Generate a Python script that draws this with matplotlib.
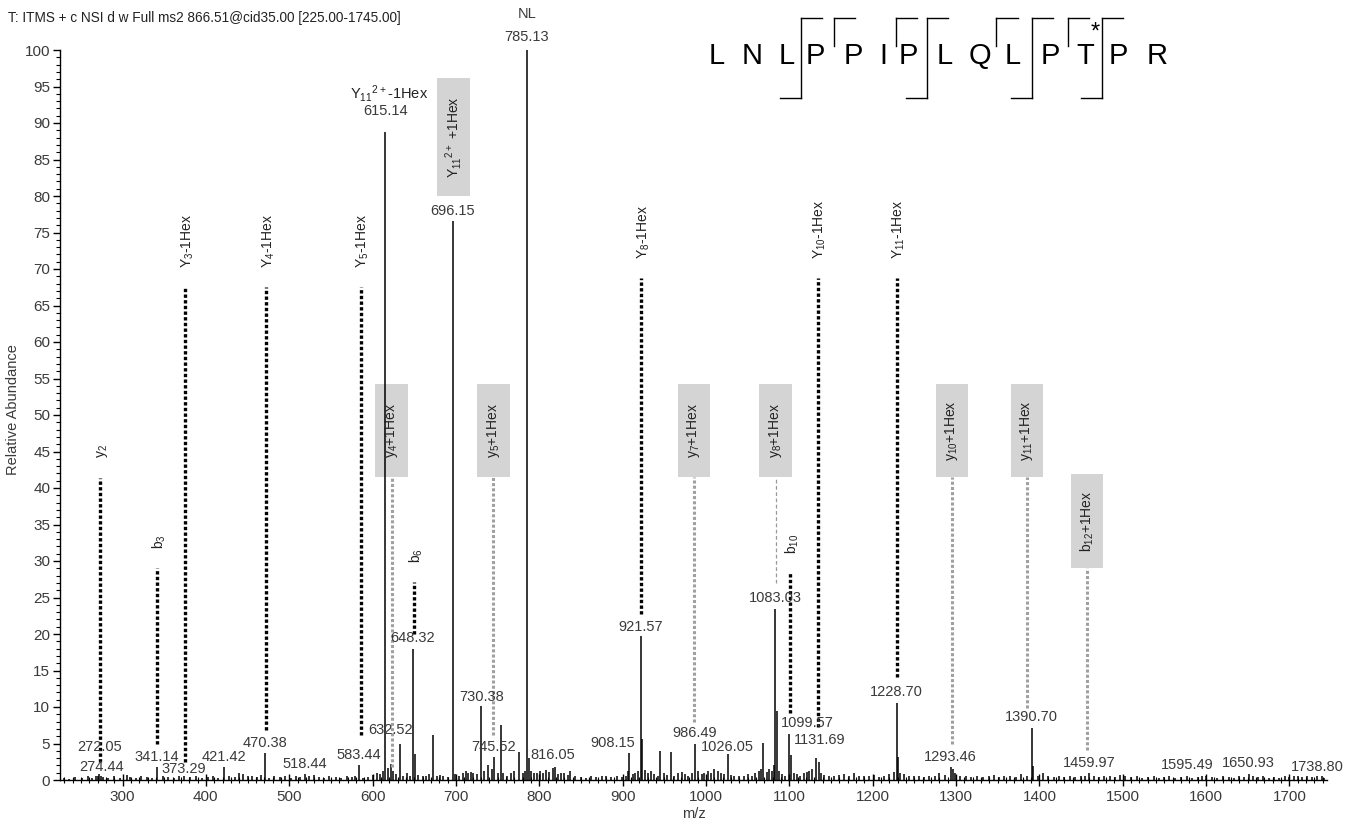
import matplotlib
matplotlib.use("Agg")
import matplotlib.pyplot as plt
from matplotlib.ticker import MultipleLocator
from matplotlib.patches import Rectangle
from matplotlib.lines import Line2D

plt.rcParams['font.family'] = ['Liberation Sans', 'DejaVu Sans']
plt.rcParams['mathtext.fontset'] = 'custom'
plt.rcParams['mathtext.rm'] = 'Liberation Sans'
plt.rcParams['mathtext.it'] = 'Liberation Sans:italic'
plt.rcParams['mathtext.bf'] = 'Liberation Sans:bold'

# ---------------- data ----------------
title_text = "T: ITMS + c NSI d w Full ms2 866.51@cid35.00 [225.00-1745.00]"
sequence = ["L", "N", "L", "P", "P", "I", "P", "L", "Q", "L", "P", "T", "P", "R"]
y_breaks = [2, 3, 5, 6, 8, 9, 10, 11]  # bracket after residue index (top, y ions)
b_breaks = [2, 6, 9, 11]               # bracket after residue index (bottom, b ions)
modified_residue = 11

# labelled peaks
lab_mz = [272.05, 274.44, 341.14, 373.29, 421.42, 470.38, 518.44, 583.44, 615.14,
          632.52, 648.32, 696.15, 730.38, 745.52, 785.13, 816.05, 908.15, 921.57,
          986.49, 1026.05, 1083.03, 1099.57, 1131.69, 1228.70, 1293.46, 1390.70,
          1459.97, 1595.49, 1650.93, 1738.80]
lab_int = [0.8, 0.6, 1.8, 0.5, 1.8, 3.7, 0.8, 2.0, 88.8,
           5.0, 17.9, 76.6, 10.1, 3.2, 100.0, 1.6, 3.7, 19.7,
           4.9, 3.6, 23.4, 6.3, 3.0, 10.5, 1.8, 7.1,
           1.0, 0.6, 0.8, 0.5]
lab_text = ["272.05", "274.44", "341.14", "373.29", "421.42", "470.38", "518.44", "583.44", "615.14",
            "632.52", "648.32", "696.15", "730.38", "745.52", "785.13", "816.05", "908.15", "921.57",
            "986.49", "1026.05", "1083.03", "1099.57", "1131.69", "1228.70", "1293.46", "1390.70",
            "1459.97", "1595.49", "1650.93", "1738.80"]
# label placement (layout): vertical position and horizontal shift in m/z units
lab_y = [4.5, 1.8, 3.2, 1.5, 3.2, 5.1, 2.2, 3.4, 91.6,
         6.8, 19.5, 78.0, 11.4, 4.5, 101.8, 3.4, 5.1, 21.0,
         6.4, 4.5, 24.9, 7.8, 5.5, 12.1, 3.2, 8.6,
         2.3, 2.1, 2.3, 1.8]
lab_dx = [0, 0, 0, 0, 0, 0, 0, 0, 0,
          -11, 0, 0, 0, 0, 0, 0, -20, 0,
          0, 0, 0, 22, 5, 0, 0, 0,
          0, -18, 0, -6]

# other (unlabelled) peaks
other_mz = [622.5, 650.5, 672.6, 738.0, 753.8, 776.0, 788.0, 923.5, 945.0, 958.0,
            1068.7, 1085.5, 1102.0, 1135.0, 1230.5, 1296.0, 1392.5]
other_int = [2.2, 3.6, 6.1, 2.0, 7.5, 3.9, 3.0, 5.6, 4.0, 3.8,
             5.1, 9.5, 3.4, 2.5, 3.2, 1.5, 1.9]

noise_mz = [230, 236, 243, 251, 258, 263, 268, 270, 277, 283, 290, 297, 305, 309, 316, 322,
            329, 335, 348, 355, 362, 368, 381, 388, 395, 402, 409, 415, 428, 435, 440, 444,
            450, 455, 461, 466, 476, 482, 489, 495, 502, 508, 513, 524, 530, 536, 542, 548,
            556, 562, 569, 575, 579, 588, 595, 601, 605, 609, 612, 618, 625, 628, 636, 641,
            645, 655, 660, 664, 668, 677, 681, 685, 690, 699, 704, 708, 712, 715, 718, 721,
            725, 734, 743, 750, 757, 761, 766, 770, 780, 783, 790, 794, 797, 801, 805, 808,
            812, 819, 822, 826, 830, 834, 837, 843, 850, 856, 862, 868, 875, 880, 886, 893,
            899, 904, 906, 912, 915, 918, 927, 930, 934, 938, 942, 950, 953, 962, 966, 971,
            975, 979, 983, 990, 995, 998, 1002, 1006, 1010, 1014, 1018, 1022, 1030, 1034, 1040,
            1045, 1050, 1055, 1059, 1063, 1066, 1073, 1076, 1079, 1081, 1088, 1091, 1095, 1105,
            1109, 1113, 1117, 1121, 1124, 1127, 1138, 1142, 1148, 1154, 1160, 1166, 1172, 1178,
            1184, 1190, 1196, 1202, 1208, 1214, 1220, 1225, 1233, 1237, 1243, 1250, 1256, 1262,
            1268, 1275, 1280, 1287, 1299, 1305, 1312, 1318, 1325, 1332, 1339, 1346, 1352, 1358,
            1365, 1372, 1378, 1385, 1398, 1404, 1410, 1417, 1424, 1430, 1437, 1443, 1450, 1455,
            1465, 1472, 1478, 1485, 1491, 1497, 1503, 1510, 1517, 1523, 1530, 1537, 1543, 1550,
            1556, 1563, 1570, 1577, 1583, 1590, 1600, 1607, 1613, 1620, 1627, 1633, 1640, 1645,
            1656, 1662, 1668, 1675, 1682, 1688, 1695, 1700, 1706, 1710, 1715, 1721, 1727, 1733, 1742]
noise_int = [0.3, 0.2, 0.4, 0.3, 0.5, 0.3, 0.6, 0.5, 0.4, 0.3, 0.5, 0.3, 0.7, 0.4, 0.3, 0.6,
             0.4, 0.3, 0.5, 0.4, 0.3, 0.6, 0.4, 0.5, 0.3, 0.4, 0.6, 0.3, 0.5, 0.4, 1.0, 0.8,
             0.5, 0.6, 0.4, 0.7, 0.3, 0.5, 0.4, 0.6, 0.3, 0.5, 0.4, 0.5, 0.7, 0.4, 0.3, 0.5,
             0.4, 0.3, 0.5, 0.4, 0.6, 0.3, 0.4, 0.7, 1.0, 0.8, 1.2, 1.6, 1.2, 0.8, 0.6, 0.9,
             0.5, 0.7, 0.5, 0.6, 0.8, 0.6, 0.7, 0.5, 0.4, 0.8, 0.5, 0.9, 1.2, 1.0, 1.1, 0.9,
             0.8, 1.2, 1.5, 1.0, 0.9, 0.6, 1.0, 1.2, 1.0, 1.3, 1.2, 1.0, 0.9, 1.2, 1.0, 1.4,
             1.1, 1.8, 0.8, 1.0, 1.0, 0.7, 1.2, 0.5, 0.4, 0.3, 0.5, 0.4, 0.6, 0.5, 0.4, 0.5,
             0.4, 0.6, 1.2, 0.8, 1.0, 1.2, 1.4, 1.0, 1.3, 0.8, 0.6, 1.0, 0.7, 0.6, 1.0, 1.1,
             0.8, 0.6, 1.0, 1.2, 0.8, 1.0, 1.3, 0.9, 1.5, 1.2, 0.9, 0.8, 0.7, 0.5, 0.6,
             0.5, 0.8, 0.6, 0.9, 1.2, 1.5, 1.1, 1.5, 1.2, 2.0, 1.3, 0.8, 0.6, 1.0,
             0.8, 0.6, 0.9, 1.1, 1.2, 1.5, 1.0, 0.7, 0.5, 0.6, 0.7, 0.8, 0.6, 0.9,
             0.5, 0.6, 0.5, 0.7, 0.4, 0.6, 0.8, 1.1, 1.0, 0.8, 0.6, 0.5, 0.6, 0.4,
             0.5, 0.6, 1.0, 0.7, 1.0, 0.5, 0.6, 0.4, 0.5, 0.4, 0.5, 0.7, 0.4, 0.5,
             0.6, 0.4, 0.8, 0.6, 0.5, 0.9, 0.5, 0.4, 0.5, 0.4, 0.6, 0.4, 0.5, 0.6,
             0.5, 0.4, 0.5, 0.6, 0.4, 0.7, 0.5, 0.4, 0.5, 0.3, 0.4, 0.6, 0.3, 0.4,
             0.5, 0.3, 0.4, 0.5, 0.3, 0.4, 0.5, 0.4, 0.3, 0.5, 0.4, 0.3, 0.5, 0.4,
             0.5, 0.4, 0.5, 0.3, 0.4, 0.3, 0.5, 0.4, 0.6, 0.5, 0.4, 0.5, 0.4, 0.5, 0.3]

# fragment annotations: black dotted (matched ions)
blk_label = [r"y$_2$", r"b$_3$", r"Y$_3$-1Hex", r"Y$_4$-1Hex", r"Y$_5$-1Hex", r"b$_6$",
             r"Y$_8$-1Hex", r"b$_{10}$", r"Y$_{10}$-1Hex", r"Y$_{11}$-1Hex"]
blk_mz = [273.0, 341.5, 375.5, 472.5, 586.0, 649.5, 922.5, 1100.5, 1134.0, 1229.0]
blk_top = [41.4, 29.0, 67.5, 67.5, 67.5, 27.1, 68.7, 28.3, 68.7, 68.7]
blk_bot = [2.5, 5.0, 2.5, 6.8, 6.2, 20.0, 22.8, 9.2, 7.3, 14.1]

# fragment annotations: grey boxes (+1Hex)
box_label = [r"y$_4$+1Hex", r"y$_5$+1Hex", r"y$_7$+1Hex", r"y$_8$+1Hex",
             r"y$_{10}$+1Hex", r"y$_{11}$+1Hex", r"b$_{12}$+1Hex"]
box_mz = [623.0, 745.0, 985.5, 1083.5, 1295.0, 1385.0, 1457.0]
box_top = [54.2, 54.2, 54.2, 54.2, 54.2, 54.2, 41.9]
box_bot = [41.5, 41.5, 41.5, 41.5, 41.5, 41.5, 29.0]
box_line_bot = [1.8, 6.2, 8.0, 27.0, 5.0, 9.8, 4.1]
box_thin = [False, False, False, True, False, False, False]

# ---------------- figure ----------------
W, H = 1358, 827
fig = plt.figure(figsize=(W / 100, H / 100), dpi=100)
ax = fig.add_axes([60 / W, 1 - 780 / H, (1327 - 60) / W, (780 - 50) / H])

txt_col = "#3a3a3a"

# all peaks
all_mz = noise_mz + other_mz + lab_mz
all_int = noise_int + other_int + lab_int
ax.vlines(all_mz, 0, all_int, color="black", lw=1.1, zorder=3)

# peak labels
for mz, y, dx, t in zip(lab_mz, lab_y, lab_dx, lab_text):
    ax.text(mz + dx, y, t, ha="center", va="center", fontsize=10.5, color=txt_col,
            clip_on=False, zorder=5)

ax.text(785.13, 105.0, "NL", ha="center", va="center", fontsize=10.5, color=txt_col, clip_on=False)
ax.text(620.0, 94.1, r"Y$_{11}$$^{2+}$-1Hex", ha="center", va="center", fontsize=10.5,
        color="#222222", clip_on=False)

# box for Y11 2+ +1Hex (no connecting line)
ax.add_patch(Rectangle((677.5, 80.0), 39.5, 16.2, facecolor="#d4d4d4", edgecolor="none", zorder=2))
ax.text(697.2, 88.1, r"Y$_{11}$$^{2+}$ +1Hex", rotation=90, ha="center", va="center",
        fontsize=10, color="#222222", zorder=4)

# black dotted matched-ion lines
for lab, mz, top, bot in zip(blk_label, blk_mz, blk_top, blk_bot):
    ax.plot([mz, mz], [bot, top], color="black", lw=2.4, linestyle=(0, (1, 0.7)),
            solid_capstyle="butt", dash_capstyle="butt", zorder=4)
    ax.annotate(lab, xy=(mz, top), xytext=(1.5, 14), textcoords="offset points",
                rotation=90, ha="center", va="bottom", fontsize=10, color="#222222")

# grey boxed +1Hex annotations
for lab, mz, top, bot, lbot, thin in zip(box_label, box_mz, box_top, box_bot, box_line_bot, box_thin):
    ax.add_patch(Rectangle((mz - 19.5, bot), 39.0, top - bot, facecolor="#d4d4d4",
                           edgecolor="none", zorder=2))
    ax.text(mz, (top + bot) / 2, lab, rotation=90, ha="center", va="center",
            fontsize=10, color="#222222", zorder=4)
    if thin:
        ax.plot([mz, mz], [lbot, bot], color="#9a9a9a", lw=0.9, linestyle=(0, (3, 2)), zorder=3)
    else:
        ax.plot([mz, mz], [lbot, bot], color="#a0a0a0", lw=2.2, linestyle=(0, (1, 0.7)),
                dash_capstyle="butt", zorder=3)

# axes styling
ax.set_xlim(225, 1745)
ax.set_ylim(0, 100)
for s in ["top", "right"]:
    ax.spines[s].set_visible(False)
ax.spines["left"].set_linewidth(1.0)
ax.spines["bottom"].set_linewidth(1.0)
ax.xaxis.set_major_locator(MultipleLocator(100))
ax.xaxis.set_minor_locator(MultipleLocator(10))
ax.yaxis.set_major_locator(MultipleLocator(5))
ax.yaxis.set_minor_locator(MultipleLocator(1))
ax.tick_params(axis="x", which="major", direction="inout", length=8, width=1, labelsize=11,
               labelcolor=txt_col, pad=3)
ax.tick_params(axis="x", which="minor", direction="inout", length=4, width=0.8)
ax.tick_params(axis="y", which="major", direction="out", length=5, width=1, labelsize=11,
               labelcolor=txt_col, pad=2)
ax.tick_params(axis="y", which="minor", direction="out", length=3, width=0.8)
ax.set_xlabel("m/z", fontsize=10.5, color=txt_col, labelpad=2)
ax.set_ylabel("Relative Abundance", fontsize=10.5, color=txt_col)
ax.yaxis.set_label_coords(-0.0316, 0.507)

# header
fig.text(8 / W, 1 - 18 / H, title_text, ha="left", va="center", fontsize=9.8, color="#222222")

# peptide sequence with fragment brackets (letter centres in figure pixels)
seq_x = [717, 752, 787, 815, 853, 883, 908, 945, 980, 1013, 1050, 1085, 1118, 1157]
yl = 56
for xc, aa in zip(seq_x, sequence):
    fig.text(xc / W, 1 - yl / H, aa, ha="center", va="center", fontsize=21, color="black")
fig.text((seq_x[modified_residue] + 10) / W, 1 - 33 / H, "*", ha="center", va="center",
         fontsize=17, color="black")
ytop, ymid, ybot, arm = 18, 46, 98, 21
for i in y_breaks:
    xb = (seq_x[i] + seq_x[i + 1]) / 2
    y_end = ybot if i in b_breaks else ymid
    fig.add_artist(Line2D([xb / W, xb / W], [1 - ytop / H, 1 - y_end / H], color="black", lw=1.0))
    fig.add_artist(Line2D([xb / W, (xb + arm) / W], [1 - ytop / H, 1 - ytop / H], color="black", lw=1.0))
for i in b_breaks:
    xb = (seq_x[i] + seq_x[i + 1]) / 2
    fig.add_artist(Line2D([(xb - arm) / W, xb / W], [1 - ybot / H, 1 - ybot / H], color="black", lw=1.0))

fig.savefig("out.png", dpi=100)
